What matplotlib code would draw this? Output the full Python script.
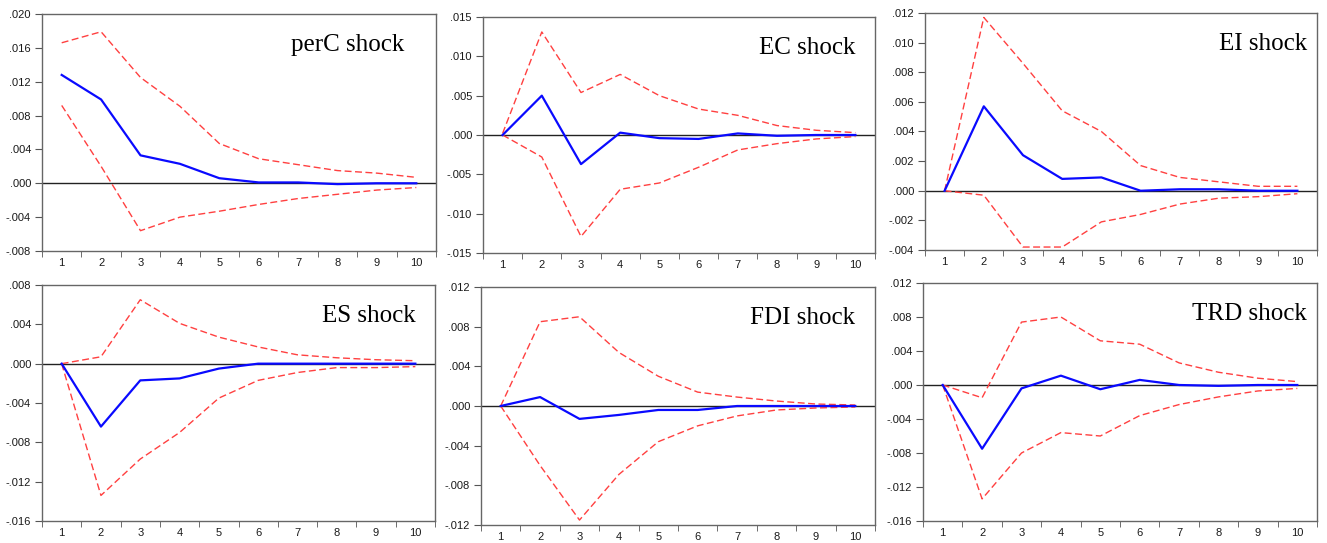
import numpy as np
import matplotlib
matplotlib.use("Agg")
import matplotlib.pyplot as plt
from matplotlib.ticker import FuncFormatter, FixedLocator

plt.rcParams['font.family'] = ['Liberation Sans', 'DejaVu Sans']

# ---------------------------------------
# Data: impulse responses with +/- 2 S.E. bands
# ---------------------------------------
periods = [1, 2, 3, 4, 5, 6, 7, 8, 9, 10]
titles = ["perC shock", "EC shock", "EI shock", "ES shock", "FDI shock", "TRD shock"]

perc_resp = [0.0128, 0.0099, 0.0033, 0.0023, 0.0006, 0.0001, 0.0001, -0.0001, 0.0000, 0.0000]
perc_up = [0.0166, 0.0179, 0.0125, 0.0091, 0.0047, 0.0029, 0.0022, 0.0015, 0.0012, 0.0007]
perc_lo = [0.0092, 0.0020, -0.0056, -0.0040, -0.0033, -0.0025, -0.0018, -0.0013, -0.0008, -0.0005]

ec_resp = [0.0000, 0.0050, -0.0037, 0.0003, -0.0004, -0.0005, 0.0002, -0.0001, 0.0000, 0.0000]
ec_up = [0.0002, 0.0131, 0.0054, 0.0077, 0.0050, 0.0033, 0.0025, 0.0012, 0.0006, 0.0003]
ec_lo = [0.0000, -0.0028, -0.0129, -0.0069, -0.0061, -0.0041, -0.0019, -0.0011, -0.0005, -0.0002]

ei_resp = [0.0000, 0.0057, 0.0024, 0.0008, 0.0009, 0.0000, 0.0001, 0.0001, 0.0000, 0.0000]
ei_up = [0.0000, 0.0117, 0.0086, 0.0054, 0.0040, 0.0017, 0.0009, 0.0006, 0.0003, 0.0003]
ei_lo = [0.0000, -0.0003, -0.0038, -0.0038, -0.0021, -0.0016, -0.0009, -0.0005, -0.0004, -0.0002]

es_resp = [0.0000, -0.0064, -0.0017, -0.0015, -0.0005, 0.0000, 0.0000, 0.0000, 0.0000, 0.0000]
es_up = [0.0000, 0.0007, 0.0065, 0.0041, 0.0027, 0.0017, 0.0009, 0.0006, 0.0004, 0.0003]
es_lo = [0.0000, -0.0134, -0.0097, -0.0070, -0.0035, -0.0017, -0.0009, -0.0004, -0.0004, -0.0003]

fdi_resp = [0.0000, 0.0009, -0.0013, -0.0009, -0.0004, -0.0004, 0.0000, 0.0000, 0.0000, 0.0000]
fdi_up = [0.0000, 0.0085, 0.0090, 0.0054, 0.0030, 0.0014, 0.0009, 0.0005, 0.0002, 0.0001]
fdi_lo = [0.0000, -0.0060, -0.0115, -0.0069, -0.0036, -0.0020, -0.0010, -0.0004, -0.0002, -0.0001]

trd_resp = [0.0000, -0.0075, -0.0004, 0.0011, -0.0005, 0.0006, 0.0000, -0.0001, 0.0000, 0.0000]
trd_up = [0.0000, -0.0015, 0.0074, 0.0080, 0.0052, 0.0048, 0.0026, 0.0015, 0.0008, 0.0004]
trd_lo = [0.0000, -0.0134, -0.0080, -0.0056, -0.0060, -0.0036, -0.0023, -0.0014, -0.0007, -0.0004]

responses = [perc_resp, ec_resp, ei_resp, es_resp, fdi_resp, trd_resp]
uppers = [perc_up, ec_up, ei_up, es_up, fdi_up, trd_up]
lowers = [perc_lo, ec_lo, ei_lo, es_lo, fdi_lo, trd_lo]

y_limits = [(-0.008, 0.020), (-0.015, 0.015), (-0.004, 0.012),
            (-0.016, 0.008), (-0.012, 0.012), (-0.016, 0.012)]
y_steps = [0.004, 0.005, 0.002, 0.004, 0.004, 0.004]

# ---------------------------------------
# Layout (pixel boxes -> figure fractions) and label spots
# ---------------------------------------
W, H = 1327, 543
boxes_px = [(42, 14, 436, 251), (483, 17, 875, 253), (925, 13, 1317, 250),
            (42, 285, 435, 521), (481, 287, 875, 525), (923, 283, 1317, 521)]
label_x = [0.92, 0.95, 0.975, 0.95, 0.95, 0.975]


def eviews_fmt(v, pos):
    if abs(v) < 1e-12:
        return ".000"
    return ("%.3f" % v).replace("0.", ".", 1)


fig = plt.figure(figsize=(W / 100, H / 100), dpi=100)

for i in range(6):
    x0, y0, x1, y1 = boxes_px[i]
    ax = fig.add_axes([x0 / W, 1 - y1 / H, (x1 - x0) / W, (y1 - y0) / H])

    ax.axhline(0, color="#222222", lw=1.0, zorder=1)
    ax.plot(periods, uppers[i], color="#ff4040", lw=1.0, dashes=(5, 2.5), zorder=2)
    ax.plot(periods, lowers[i], color="#ff4040", lw=1.0, dashes=(5, 2.5), zorder=2)
    ax.plot(periods, responses[i], color="#0a0aff", lw=1.6, zorder=3)

    lo, hi = y_limits[i]
    ax.set_xlim(0.5, 10.5)
    ax.set_ylim(lo, hi)
    ax.yaxis.set_major_locator(FixedLocator(np.arange(lo, hi + 1e-9, y_steps[i])))
    ax.yaxis.set_major_formatter(FuncFormatter(eviews_fmt))

    # labels at integers, tick marks between observations
    ax.set_xticks(periods)
    ax.set_xticklabels([str(p) for p in periods])
    ax.set_xticks(np.arange(0.5, 11, 1.0), minor=True)
    ax.tick_params(axis="x", which="major", length=0, pad=5, labelsize=8, colors="#1a1a1a")
    ax.tick_params(axis="x", which="minor", length=4, direction="out", color="#555555")
    ax.tick_params(axis="y", which="major", length=5, direction="out", labelsize=8,
                   pad=3, color="#555555", labelcolor="#1a1a1a")

    for sp in ax.spines.values():
        sp.set_color("#666666")
        sp.set_linewidth(1.0)

    ax.text(label_x[i], 0.87, titles[i], transform=ax.transAxes, ha="right", va="center",
            fontsize=18, family="Liberation Serif", color="black")

fig.savefig("out.png", dpi=100)
